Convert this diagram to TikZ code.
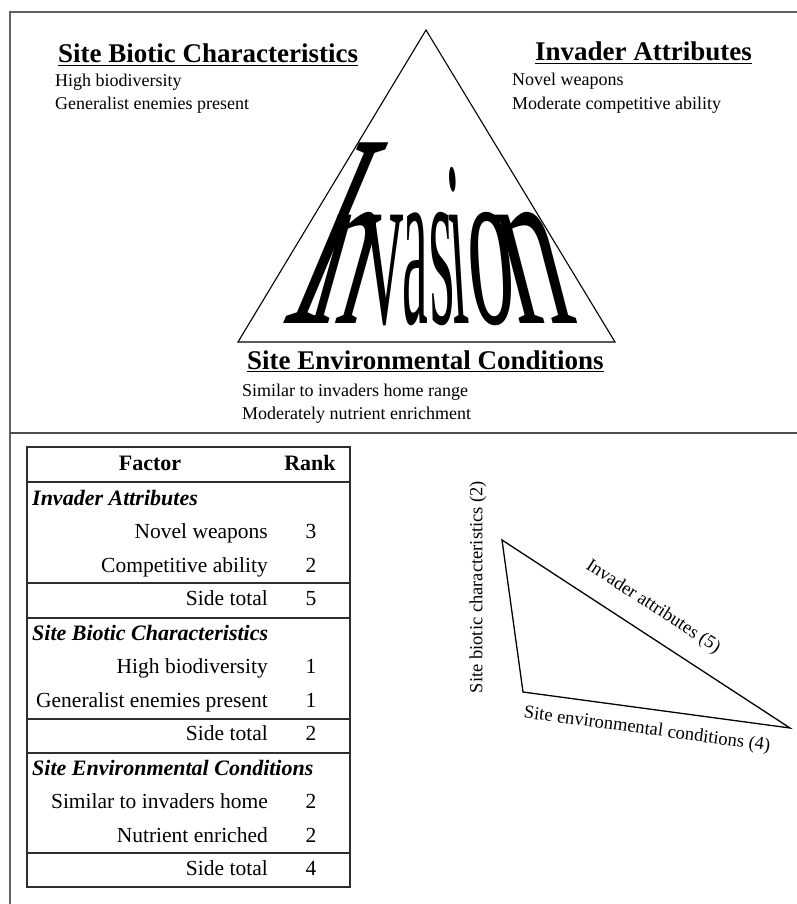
\documentclass[tikz,border=0pt]{standalone}
\usepackage{fontspec}
\setmainfont{Liberation Serif}
\newcommand\InvLetter[6]{%
  \begin{scope}[shift={(#2,-323)},xslant=#3,xscale=#4,yscale=#5]
    \node[transform shape,anchor=base,inner sep=0pt,font=\fontsize{40}{40}\selectfont] (#1) at (0,0) {#6};
  \end{scope}}
\begin{document}
\begin{tikzpicture}[x=1pt,y=1pt,
  frameline/.style={line width=2.2pt,draw=black!62},
  head/.style={anchor=base west,inner sep=0pt,font=\fontsize{27}{30}\selectfont\bfseries},
  body/.style={anchor=base west,inner sep=0pt,font=\fontsize{18}{20}\selectfont},
  uline/.style={line width=1.3pt},
  tframe/.style={line width=1.8pt,draw=black!82},
  trule/.style={line width=1.5pt,draw=black!82},
  tcell/.style={anchor=base east,inner sep=0pt,font=\fontsize{21.5}{24}\selectfont},
  tnum/.style={anchor=base,inner sep=0pt,font=\fontsize{21.5}{24}\selectfont},
  tgroup/.style={anchor=base west,inner sep=0pt,font=\fontsize{22}{24}\selectfont\bfseries\itshape},
  thead/.style={anchor=base,inner sep=0pt,font=\fontsize{22}{24}\selectfont\bfseries},
  side/.style={inner sep=0pt,font=\fontsize{18.5}{20}\selectfont}]
\useasboundingbox[fill=white] (0,0) rectangle (797,-904);

% frame
\draw[frameline] (10,-904) -- (10,-12) -- (797,-12);
\draw[frameline,draw=black!70] (10,-433) -- (797,-433);

% big triangle
\coordinate (apex) at (426,-30);
\coordinate (bl) at (238,-342);
\coordinate (br) at (615,-342);
\draw[line width=1.1pt] (apex) -- (bl) -- (br) -- cycle;

% Invasion
\InvLetter{L1}{298}{0.42}{2.8}{6.9}{I}
\InvLetter{L2}{331}{0.28}{2.6}{5.9}{n}
\InvLetter{L3}{384}{0.0}{1.9}{5.9}{v}
\InvLetter{L4}{415}{0.0}{1.45}{5.9}{a}
\InvLetter{L5}{443}{-0.02}{1.6}{5.9}{s}
\InvLetter{L6}{462}{-0.06}{1.5}{5.9}{i}
\InvLetter{L7}{495}{-0.08}{2.3}{5.9}{o}
\InvLetter{L8}{548}{-0.26}{3.1}{5.9}{n}

% headings and lists
\node[head] (hsbc) at (58,-63) {Site Biotic Characteristics};
\draw[uline] ([yshift=-2.5pt]hsbc.base west) -- ([yshift=-2.5pt]hsbc.base east);
\node[body] (b1) at (55,-87) {High biodiversity};
\node[body] (b2) at (55,-110) {Generalist enemies present};

\node[head] (hia) at (535,-61) {Invader Attributes};
\draw[uline] ([yshift=-2.5pt]hia.base west) -- ([yshift=-2.5pt]hia.base east);
\node[body] (i1) at (512,-86) {Novel weapons};
\node[body] (i2) at (512,-110) {Moderate competitive ability};

\node[head] (hsec) at (247,-369) {Site Environmental Conditions};
\draw[uline] ([yshift=-2.5pt]hsec.base west) -- ([yshift=-2.5pt]hsec.base east);
\node[body] (e1) at (242,-396) {Similar to invaders home range};
\node[body] (e2) at (242,-419) {Moderately nutrient enrichment};

% table
\draw[tframe] (27,-447) rectangle (350,-887);
\foreach \yy in {-482,-583,-618,-719,-753,-853}
  \draw[trule] (27,\yy) -- (350,\yy);
\node[thead] (fac) at (150,-470) {Factor};
\node[thead] (rnk) at (310,-470) {Rank};

\node[tgroup] (g1) at (32,-505) {Invader Attributes};
\node[tcell] (r1) at (268,-538) {Novel weapons};
\node[tnum] (n1) at (311,-538) {3};
\node[tcell] (r2) at (268,-572) {Competitive ability};
\node[tnum] (n2) at (311,-572) {2};
\node[tcell] (r3) at (268,-605) {Side total};
\node[tnum] (n3) at (311,-605) {5};

\node[tgroup] (g2) at (32,-640) {Site Biotic Characteristics};
\node[tcell] (r4) at (268,-673) {High biodiversity};
\node[tnum] (n4) at (311,-673) {1};
\node[tcell] (r5) at (268,-707) {Generalist enemies present};
\node[tnum] (n5) at (311,-707) {1};
\node[tcell] (r6) at (268,-740) {Side total};
\node[tnum] (n6) at (311,-740) {2};

\node[tgroup] (g3) at (32,-775) {Site Environmental Conditions};
\node[tcell] (r7) at (268,-808) {Similar to invaders home};
\node[tnum] (n7) at (311,-808) {2};
\node[tcell] (r8) at (268,-842) {Nutrient enriched};
\node[tnum] (n8) at (311,-842) {2};
\node[tcell] (r9) at (268,-875) {Side total};
\node[tnum] (n9) at (311,-875) {4};

% small triangle
\coordinate (tA) at (502,-540);
\coordinate (tB) at (523,-692);
\coordinate (tC) at (790,-728);
\draw[line width=1.3pt,line join=miter] (tA) -- (tB) -- (tC) -- cycle;
\node[side,rotate=90] (sl1) at (478,-587) {Site biotic characteristics (2)};
\node[side,rotate=-33.1] (sl2) at (653,-607) {Invader attributes (5)};
\node[side,rotate=-7.7] (sl3) at (647,-730) {Site environmental conditions (4)};
\end{tikzpicture}
\end{document}
